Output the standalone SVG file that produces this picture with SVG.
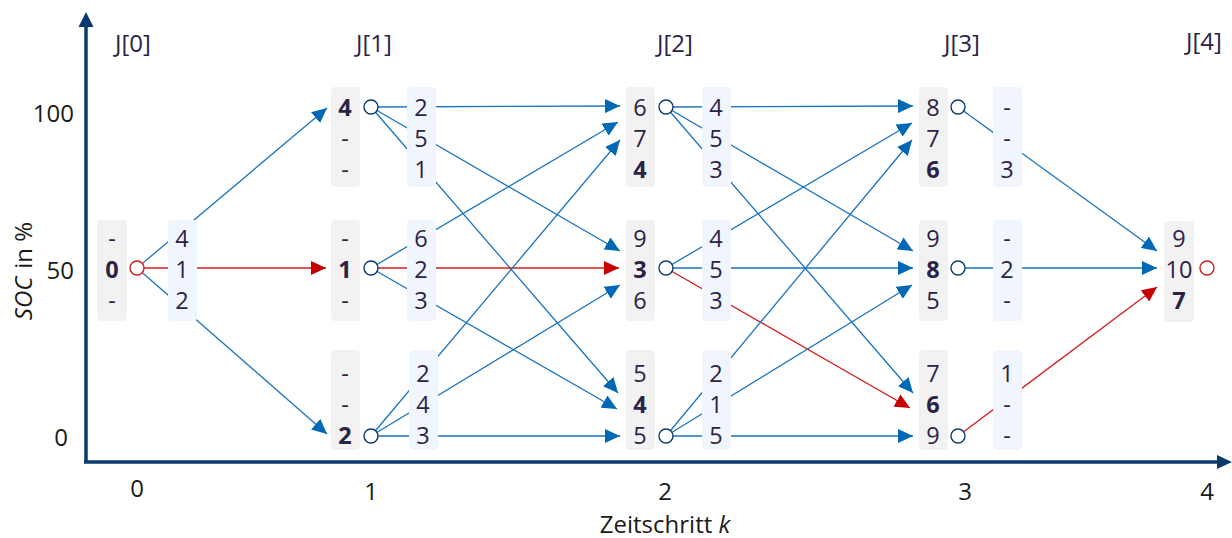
<svg xmlns="http://www.w3.org/2000/svg" width="1232" height="538" viewBox="0 0 1232 538">
<defs>
<style>
text{font-family:"Open Sans","Noto Sans","DejaVu Sans",sans-serif;font-size:24px;fill:#2b2347;text-anchor:middle}
.n text{font-size:23.5px}
.ax{fill:#1a1a1a}
.b{font-weight:bold}
.g{fill:#f2f2f2}
.l{fill:#f1f6fe}
.c{fill:#fff;stroke:#0b3a6e;stroke-width:1.4}
.cr{fill:#fff;stroke:#d01a1a;stroke-width:1.4}
.e{stroke:#1a73bf;stroke-width:1.3;fill:none;marker-end:url(#ab)}
.r{stroke:#d41c1c;stroke-width:1.3;fill:none;marker-end:url(#ar)}
</style>
<marker id="ab" markerUnits="userSpaceOnUse" markerWidth="16" markerHeight="14" refX="15" refY="7" orient="auto"><path d="M0,0 L15,7 L0,14 z" fill="#0068b5"/></marker>
<marker id="ar" markerUnits="userSpaceOnUse" markerWidth="16" markerHeight="14" refX="15" refY="7" orient="auto"><path d="M0,0 L15,7 L0,14 z" fill="#c80000"/></marker>
</defs>
<rect width="1232" height="538" fill="#fff"/>
<g id="axes">
<path d="M86,463 V26" stroke="#0b3a6e" stroke-width="3.5" fill="none"/>
<path d="M78.5,27 L86,12 L93.5,27 z" fill="#0b3a6e"/>
<path d="M84,462 H1218" stroke="#0b3a6e" stroke-width="3.5" fill="none"/>
<path d="M1217,455 L1232,462 L1217,469 z" fill="#0b3a6e"/>
<text class="ax" x="74" y="122" style="text-anchor:end">100</text>
<text class="ax" x="74" y="279" style="text-anchor:end">50</text>
<text class="ax" x="68" y="446" style="text-anchor:end">0</text>
<text class="ax" x="137" y="497">0</text>
<text class="ax" x="371" y="500">1</text>
<text class="ax" x="665" y="500">2</text>
<text class="ax" x="965" y="500">3</text>
<text class="ax" x="1207" y="500">4</text>
<text class="ax" x="665" y="533">Zeitschritt <tspan font-style="italic">k</tspan></text>
<text class="ax" transform="translate(32,271) rotate(-90)"><tspan font-style="italic">SOC</tspan><tspan dx="8">in %</tspan></text>
<text x="133" y="52">J[0]</text>
<text x="374" y="52">J[1]</text>
<text x="675" y="52">J[2]</text>
<text x="962" y="52">J[3]</text>
<text x="1204" y="50">J[4]</text>
</g>
<g id="connectors">
<line class="e" x1="137" y1="268" x2="327" y2="108"/>
<line class="r" x1="137" y1="268" x2="326" y2="268"/>
<line class="e" x1="137" y1="268" x2="327" y2="434"/>
<line class="e" x1="371" y1="107" x2="620" y2="106"/>
<line class="e" x1="371" y1="107" x2="620" y2="251"/>
<line class="e" x1="371" y1="107" x2="618" y2="393"/>
<line class="e" x1="371" y1="268" x2="618" y2="122"/>
<line class="r" x1="371" y1="268" x2="619" y2="268"/>
<line class="e" x1="371" y1="268" x2="617" y2="409"/>
<line class="e" x1="371" y1="436" x2="620" y2="140"/>
<line class="e" x1="371" y1="436" x2="620" y2="285"/>
<line class="e" x1="371" y1="436" x2="620" y2="436"/>
<line class="e" x1="666" y1="107" x2="913" y2="106"/>
<line class="e" x1="666" y1="107" x2="913" y2="251"/>
<line class="e" x1="666" y1="107" x2="913" y2="393"/>
<line class="e" x1="666" y1="268" x2="912" y2="123"/>
<line class="e" x1="666" y1="268" x2="913" y2="268"/>
<line class="r" x1="666" y1="268" x2="910" y2="408"/>
<line class="e" x1="666" y1="436" x2="912" y2="140"/>
<line class="e" x1="666" y1="436" x2="912" y2="285"/>
<line class="e" x1="666" y1="436" x2="913" y2="436"/>
<line class="e" x1="958" y1="107" x2="1157" y2="251"/>
<line class="e" x1="958" y1="268" x2="1157" y2="268"/>
<line class="r" x1="958" y1="436" x2="1157" y2="287"/>
</g>
<g id="n0" class="n">
<rect class="g" x="97" y="220" width="30" height="101" rx="4"/>
<text x="112" y="247">-</text><text class="b" x="112" y="278">0</text><text x="112" y="309">-</text>
<circle class="cr" cx="137" cy="268" r="7"/>
<rect class="l" x="168" y="220" width="29" height="101" rx="4"/>
<text x="182" y="247">4</text><text x="182" y="278">1</text><text x="182" y="309">2</text>
</g>
<g id="n1a" class="n">
<rect class="g" x="331" y="87" width="29" height="100" rx="4"/>
<text class="b" x="345" y="116">4</text><text x="345" y="147">-</text><text x="345" y="178">-</text>
<circle class="c" cx="371" cy="107" r="7"/>
<rect class="l" x="407" y="87" width="29" height="100" rx="4"/>
<text x="421" y="116">2</text><text x="421" y="147">5</text><text x="421" y="178">1</text>
</g>
<g id="n1b" class="n">
<rect class="g" x="331" y="220" width="29" height="101" rx="4"/>
<text x="345" y="247">-</text><text class="b" x="345" y="278">1</text><text x="345" y="309">-</text>
<circle class="c" cx="371" cy="268" r="7"/>
<rect class="l" x="407" y="220" width="29" height="101" rx="4"/>
<text x="421" y="247">6</text><text x="421" y="278">2</text><text x="421" y="309">3</text>
</g>
<g id="n1c" class="n">
<rect class="g" x="331" y="350" width="29" height="100" rx="4"/>
<text x="345" y="382">-</text><text x="345" y="413">-</text><text class="b" x="345" y="444">2</text>
<circle class="c" cx="371" cy="436" r="7"/>
<rect class="l" x="409" y="350" width="29" height="100" rx="4"/>
<text x="423" y="382">2</text><text x="423" y="413">4</text><text x="423" y="444">3</text>
</g>
<g id="n2a" class="n">
<rect class="g" x="626" y="87" width="29" height="100" rx="4"/>
<text x="640" y="116">6</text><text x="640" y="147">7</text><text class="b" x="640" y="178">4</text>
<circle class="c" cx="666" cy="107" r="7"/>
<rect class="l" x="702" y="87" width="29" height="100" rx="4"/>
<text x="716" y="116">4</text><text x="716" y="147">5</text><text x="716" y="178">3</text>
</g>
<g id="n2b" class="n">
<rect class="g" x="626" y="220" width="29" height="101" rx="4"/>
<text x="640" y="247">9</text><text class="b" x="640" y="278">3</text><text x="640" y="309">6</text>
<circle class="c" cx="666" cy="268" r="7"/>
<rect class="l" x="702" y="220" width="29" height="101" rx="4"/>
<text x="716" y="247">4</text><text x="716" y="278">5</text><text x="716" y="309">3</text>
</g>
<g id="n2c" class="n">
<rect class="g" x="626" y="350" width="29" height="100" rx="4"/>
<text x="640" y="382">5</text><text class="b" x="640" y="413">4</text><text x="640" y="444">5</text>
<circle class="c" cx="666" cy="436" r="7"/>
<rect class="l" x="702" y="350" width="29" height="100" rx="4"/>
<text x="716" y="382">2</text><text x="716" y="413">1</text><text x="716" y="444">5</text>
</g>
<g id="n3a" class="n">
<rect class="g" x="919" y="87" width="29" height="100" rx="4"/>
<text x="933" y="116">8</text><text x="933" y="147">7</text><text class="b" x="933" y="178">6</text>
<circle class="c" cx="958" cy="107" r="7"/>
<rect class="l" x="993" y="87" width="29" height="100" rx="4"/>
<text x="1007" y="116">-</text><text x="1007" y="147">-</text><text x="1007" y="178">3</text>
</g>
<g id="n3b" class="n">
<rect class="g" x="919" y="220" width="29" height="101" rx="4"/>
<text x="933" y="247">9</text><text class="b" x="933" y="278">8</text><text x="933" y="309">5</text>
<circle class="c" cx="958" cy="268" r="7"/>
<rect class="l" x="993" y="220" width="29" height="101" rx="4"/>
<text x="1007" y="247">-</text><text x="1007" y="278">2</text><text x="1007" y="309">-</text>
</g>
<g id="n3c" class="n">
<rect class="g" x="919" y="350" width="29" height="100" rx="4"/>
<text x="933" y="382">7</text><text class="b" x="933" y="413">6</text><text x="933" y="444">9</text>
<circle class="c" cx="958" cy="436" r="7"/>
<rect class="l" x="993" y="350" width="29" height="100" rx="4"/>
<text x="1007" y="382">1</text><text x="1007" y="413">-</text><text x="1007" y="444">-</text>
</g>
<g id="n4" class="n">
<rect class="g" x="1164" y="221" width="30" height="101" rx="4"/>
<text x="1179" y="247">9</text><text x="1179" y="278">10</text><text class="b" x="1179" y="309">7</text>
<circle class="cr" cx="1207" cy="268" r="7"/>
</g>
</svg>
